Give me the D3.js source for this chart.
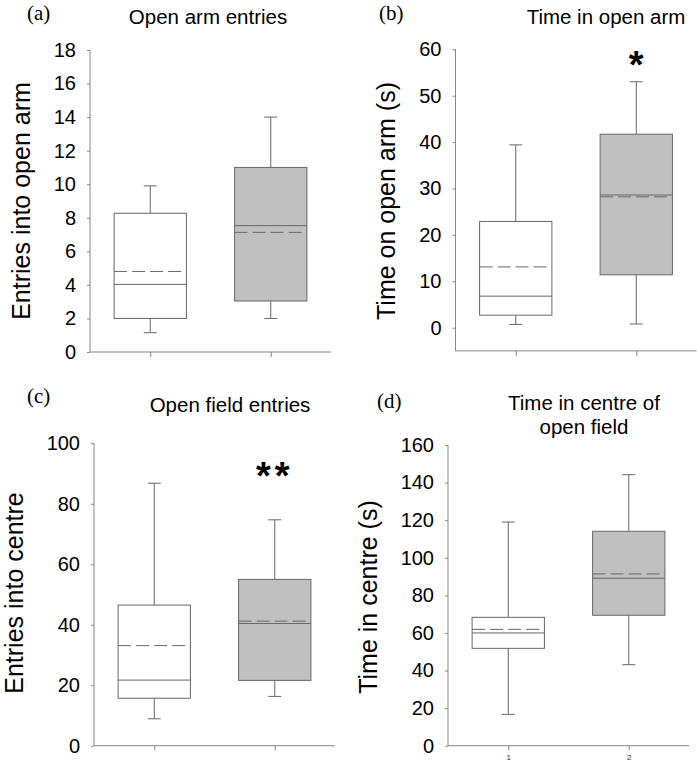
<!DOCTYPE html>
<html><head><meta charset="utf-8">
<script src="https://cdn.jsdelivr.net/npm/d3@7"></script>
<style>
html,body{margin:0;padding:0;background:#fff;}
svg{display:block;}
</style></head>
<body>
<svg id="chart" width="700" height="768"></svg>
<script>
// ---------- data ----------
const groups = ["1", "2"];
// each row: [low whisker, Q1, median, Q3, high whisker, mean]
const openArmEntries   = [[1.15, 2.0, 4.03, 8.27, 9.9, 4.8], [2.0, 3.04, 7.53, 11.0, 14.0, 7.13]];
const timeOpenArm      = [[0.7, 2.7, 6.8, 22.9, 39.4, 13.1], [0.8, 11.4, 28.6, 41.7, 53.0, 28.2]];
const openFieldEntries = [[8.9, 15.7, 21.7, 46.5, 86.8, 33.1], [16.3, 21.6, 40.4, 55.0, 74.7, 41.2]];
const timeCentre       = [[16.7, 51.8, 60.0, 68.3, 119.0, 61.9], [43.1, 69.4, 89.1, 114.1, 144.2, 91.4]];

const ticksA = d3.range(0, 19, 2);
const ticksB = d3.range(0, 61, 10);
const ticksC = d3.range(0, 101, 20);
const ticksD = d3.range(0, 161, 20);

const letters = ["(a)", "(b)", "(c)", "(d)"];
const titles = [["Open arm entries"], ["Time in open arm"], ["Open field entries"], ["Time in centre of", "open field"]];
const yTitles = ["Entries into open arm", "Time on open arm (s)", "Entries into centre", "Time in centre (s)"];
const marks = ["", "*", "**", ""];
const xTickLabels = [false, false, false, true];

// ---------- layout ----------
const panels = [
  {data: openArmEntries, ticks: ticksA, dom: [0, 18], yr: [352, 50], axisMin: 0, x0: 90, x1: 331,
   letter: [27, 20], title: [208, [24]], yt: [30, 201], mark: null},
  {data: timeOpenArm, ticks: ticksB, dom: [0, 60], yr: [327.7, 49.3], axisMin: -5, x0: 455.5, x1: 696.5,
   letter: [379, 20], title: [606, [24]], yt: [395, 201], mark: [1, 78]},
  {data: openFieldEntries, ticks: ticksC, dom: [0, 100], yr: [745.7, 443.3], axisMin: 0, x0: 94, x1: 335,
   letter: [27, 403], title: [230, [412]], yt: [23, 593], mark: [1, 489]},
  {data: timeCentre, ticks: ticksD, dom: [0, 160], yr: [745.7, 445], axisMin: 0, x0: 448, x1: 689,
   letter: [377, 408], title: [584, [410, 434]], yt: [377, 597], mark: null}
];

const svg = d3.select("#chart");
const lineCol = "#686868";
const axisCol = "#888888";
const fills = ["#ffffff", "#c0c0c0"];

panels.forEach((p, i) => {
  const g = svg.append("g");
  const y = d3.scaleLinear().domain(p.dom).range(p.yr);
  const x = d3.scalePoint().domain(groups).range([p.x0, p.x1]).padding(0.5);
  const step = x.step();
  const bw = step * 0.6;
  const cap = 13;
  const yBase = y(p.axisMin);

  // y axis
  const yAxis = d3.axisLeft(y).tickValues(p.ticks).tickSize(3).tickSizeOuter(0).tickPadding(11);
  const ya = g.append("g").attr("transform", `translate(${p.x0},0)`).call(yAxis);
  ya.select(".domain").remove();
  ya.append("line").attr("x1", 0).attr("x2", 0).attr("y1", y(p.dom[1])).attr("y2", yBase)
    .attr("stroke", axisCol);
  ya.selectAll(".tick line").attr("stroke", axisCol);
  ya.selectAll(".tick text").attr("font-family", "Liberation Sans, Arial, sans-serif")
    .attr("font-size", 20).attr("fill", "#000");

  // x axis
  const xAxis = d3.axisBottom(x).tickSize(5).tickSizeOuter(0).tickPadding(4);
  const xa = g.append("g").attr("transform", `translate(0,${yBase})`).call(xAxis);
  xa.select(".domain").remove();
  xa.append("line").attr("x1", p.x0).attr("x2", p.x1).attr("y1", 0).attr("y2", 0).attr("stroke", axisCol);
  xa.selectAll(".tick line").attr("stroke", axisCol);
  xa.selectAll(".tick text").attr("font-family", "Liberation Sans, Arial, sans-serif")
    .attr("font-size", 8).attr("fill", "#333")
    .style("display", xTickLabels[i] ? null : "none");

  // boxes
  const bx = g.selectAll(".box").data(p.data).join("g").attr("class", "box");
  bx.each(function(d, k) {
    const s = d3.select(this);
    const cx = x(groups[k]);
    const [lo, q1, med, q3, hi, mean] = d;
    // whiskers
    s.append("line").attr("x1", cx).attr("x2", cx).attr("y1", y(q3)).attr("y2", y(hi)).attr("stroke", lineCol);
    s.append("line").attr("x1", cx).attr("x2", cx).attr("y1", y(q1)).attr("y2", y(lo)).attr("stroke", lineCol);
    s.append("line").attr("x1", cx - cap / 2).attr("x2", cx + cap / 2).attr("y1", y(hi)).attr("y2", y(hi)).attr("stroke", lineCol);
    s.append("line").attr("x1", cx - cap / 2).attr("x2", cx + cap / 2).attr("y1", y(lo)).attr("y2", y(lo)).attr("stroke", lineCol);
    // box
    s.append("rect").attr("x", cx - bw / 2).attr("width", bw).attr("y", y(q3)).attr("height", y(q1) - y(q3))
      .attr("fill", fills[k]).attr("stroke", lineCol);
    // median
    s.append("line").attr("x1", cx - bw / 2).attr("x2", cx + bw / 2).attr("y1", y(med)).attr("y2", y(med)).attr("stroke", lineCol);
    // mean dashed
    s.append("line").attr("x1", cx - bw / 2).attr("x2", cx + bw / 2).attr("y1", y(mean)).attr("y2", y(mean))
      .attr("stroke", lineCol).attr("stroke-dasharray", "13,5");
  });

  // panel letter
  g.append("text").attr("x", p.letter[0]).attr("y", p.letter[1])
    .attr("font-family", "Liberation Serif, Times New Roman, serif").attr("font-size", 21).attr("fill", "#000")
    .text(letters[i]);

  // title
  titles[i].forEach((t, j) => {
    g.append("text").attr("x", p.title[0]).attr("y", p.title[1][j]).attr("text-anchor", "middle")
      .attr("font-family", "Liberation Sans, Arial, sans-serif").attr("font-size", 20.5).attr("fill", "#000")
      .text(t);
  });

  // y title
  g.append("text").attr("transform", `translate(${p.yt[0]},${p.yt[1]}) rotate(-90)`)
    .attr("text-anchor", "middle")
    .attr("font-family", "Liberation Sans, Arial, sans-serif").attr("font-size", 25).attr("fill", "#000")
    .text(yTitles[i]);

  // significance mark
  if (p.mark) {
    g.append("text").attr("x", x(groups[p.mark[0]])).attr("y", p.mark[1]).attr("text-anchor", "middle")
      .attr("font-family", "Liberation Sans, Arial, sans-serif").attr("font-size", 38).attr("font-weight", "bold")
      .attr("letter-spacing", marks[i].length > 1 ? 4 : 0)
      .attr("fill", "#000").text(marks[i]);
  }
});
</script>
</body></html>
